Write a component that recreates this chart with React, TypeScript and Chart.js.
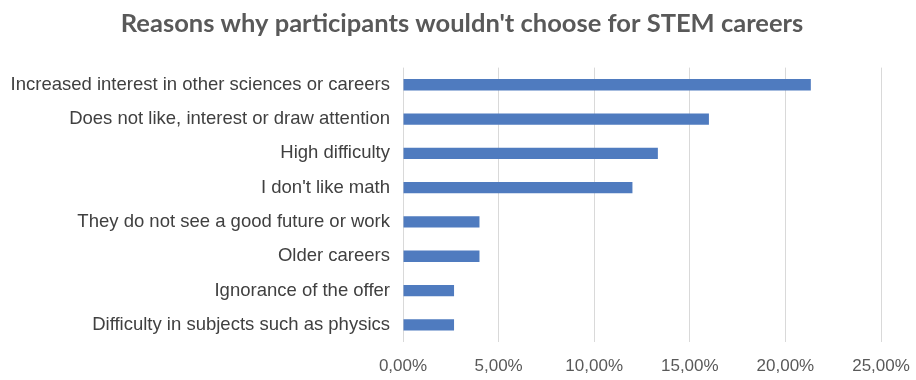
import React, { useEffect, useRef } from "react";
import { Chart, registerables } from "chart.js";

Chart.register(...registerables);

const categories = [
  "Increased interest in other sciences or careers",
  "Does not like, interest or draw attention",
  "High difficulty",
  "I don't like math",
  "They do not see a good future or work",
  "Older careers",
  "Ignorance of the offer",
  "Difficulty in subjects such as physics",
];
const values = [21.33, 16.0, 13.33, 12.0, 4.0, 4.0, 2.67, 2.67];
const chartTitle = "Reasons why participants wouldn't choose for STEM careers";

export default function App() {
  const ref = useRef<HTMLCanvasElement | null>(null);
  useEffect(() => {
    document.body.style.margin = "0";
    const chart = new Chart(ref.current!, {
      type: "bar",
      data: {
        labels: categories,
        datasets: [
          {
            data: values,
            backgroundColor: "#4f7bbf",
            categoryPercentage: 1,
            barPercentage: 0.33,
          },
        ],
      },
      options: {
        indexAxis: "y",
        animation: false,
        responsive: false,
        maintainAspectRatio: false,
        layout: { padding: { left: 8, right: 0, top: 0, bottom: 0 } },
        plugins: {
          legend: { display: false },
          tooltip: { enabled: false },
          title: {
            display: true,
            text: chartTitle,
            color: "#595959",
            font: { family: "Lato", size: 25.5, weight: "bold" },
            padding: { top: 8, bottom: 29 },
          },
        },
        scales: {
          x: {
            min: 0,
            max: 25,
            ticks: {
              stepSize: 5,
              color: "#595959",
              font: { family: "Liberation Sans", size: 17 },
              padding: 14,
              callback: (v: any) => Number(v).toFixed(2).replace(".", ",") + "%",
            },
            grid: { color: "#d9d9d9", drawTicks: false },
            border: { display: false },
            afterFit: (s: any) => {
              s.height = 38;
              s.paddingRight = 35;
            },
          },
          y: {
            ticks: {
              color: "#404040",
              font: { family: "Liberation Sans", size: 18.5 },
              padding: 13,
            },
            grid: { display: false, drawTicks: false },
            border: { display: false },
            afterFit: (s: any) => {
              s.width = 395;
            },
          },
        },
      },
    });
    return () => chart.destroy();
  }, []);
  return <canvas ref={ref} width={916} height={380} style={{ display: "block" }} />;
}
